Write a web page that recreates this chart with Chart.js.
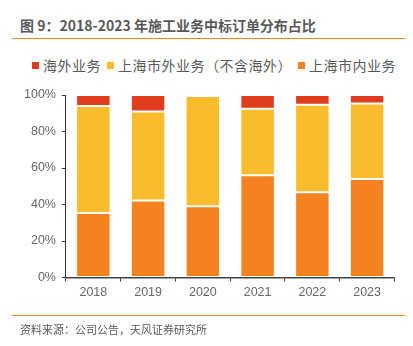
<!DOCTYPE html>
<html>
<head>
<meta charset="utf-8">
<script src="https://cdn.jsdelivr.net/npm/chart.js@4"></script>
<style>
  html, body { margin: 0; padding: 0; background: #fff; }
  body { width: 413px; height: 346px; position: relative; overflow: hidden;
         font-family: "Noto Sans CJK SC", "Liberation Sans", sans-serif; }
  #title { position: absolute; left: 20px; top: 15px; font-size: 14px; font-weight: bold;
           color: #595959; white-space: nowrap; line-height: 20px; }
  .rule { position: absolute; left: 12px; width: 393px; height: 1.5px; background: #F58220; }
  #legend { position: absolute; left: 32px; top: 56px; height: 18px; display: flex;
            align-items: center; font-size: 14px; color: #595959; white-space: nowrap;
            letter-spacing: 0.5px; }
  #legend .item { display: flex; align-items: center; margin-right: 6px; }
  #legend .box { width: 7px; height: 7px; margin-right: 4px; }
  #source { position: absolute; left: 20px; top: 321px; font-size: 11px; color: #595959;
            white-space: nowrap; line-height: 16px; }
  #wrap { position: absolute; left: 0; top: 0; width: 413px; height: 346px; }
</style>
</head>
<body>
<div id="title">图 9：2018-2023 年施工业务中标订单分布占比</div>
<div class="rule" style="top:37.5px"></div>
<div id="legend"></div>
<div id="wrap"><canvas id="c"></canvas></div>
<div class="rule" style="top:314.5px"></div>
<div id="source">资料来源：公司公告，天风证券研究所</div>
<script>
// Years and share of winning orders by business segment (%)
const years = ['2018', '2019', '2020', '2021', '2022', '2023'];
const overseas = [6.0, 9.0, 0.5, 7.5, 5.3, 4.6];          // 海外业务
const shanghaiOutside = [58.7, 48.8, 60.4, 36.5, 48.0, 41.4]; // 上海市外业务（不含海外）
const shanghaiLocal = [35.3, 42.2, 39.1, 56.0, 46.7, 54.0];   // 上海市内业务
const yTicks = [0, 20, 40, 60, 80, 100];

const series = [
  { label: '上海市内业务', data: shanghaiLocal, color: '#F58220' },
  { label: '上海市外业务（不含海外）', data: shanghaiOutside, color: '#F9BC2C' },
  { label: '海外业务', data: overseas, color: '#E03C1E' }
];

// legend, top series first
const legend = document.getElementById('legend');
series.slice().reverse().forEach(s => {
  const item = document.createElement('span');
  item.className = 'item';
  const box = document.createElement('span');
  box.className = 'box';
  box.style.background = s.color;
  const txt = document.createElement('span');
  txt.textContent = s.label;
  item.appendChild(box); item.appendChild(txt);
  legend.appendChild(item);
});

const tickFont = { family: '"Liberation Sans", Arial, sans-serif', size: 12.5 };

new Chart(document.getElementById('c'), {
  type: 'bar',
  data: {
    labels: years,
    datasets: series.map(s => ({
      label: s.label,
      data: s.data,
      backgroundColor: s.color,
      borderColor: 'rgba(255,255,255,0.35)',
      borderWidth: 1,
      borderSkipped: false,
      categoryPercentage: 1,
      barPercentage: 0.63
    }))
  },
  options: {
    responsive: true,
    maintainAspectRatio: false,
    animation: false,
    layout: { padding: { left: 18, right: 18.5, top: 95, bottom: 41.5 } },
    plugins: { legend: { display: false }, tooltip: { enabled: false } },
    scales: {
      x: {
        stacked: true,
        offset: true,
        grid: { display: true, drawOnChartArea: false, offset: true, tickLength: 4,
                color: '#333', tickWidth: 1 },
        border: { color: '#444', width: 1.5 },
        ticks: { color: '#666', font: tickFont, padding: 4 }
      },
      y: {
        stacked: true,
        min: 0, max: 100,
        afterBuildTicks: axis => { axis.ticks = yTicks.map(v => ({ value: v })); },
        grid: { display: true, drawOnChartArea: false, tickLength: 4, color: '#333' },
        border: { color: '#333', width: 1 },
        ticks: { color: '#666', font: tickFont, padding: 6, callback: v => v + '%' }
      }
    }
  }
});
</script>
</body>
</html>
